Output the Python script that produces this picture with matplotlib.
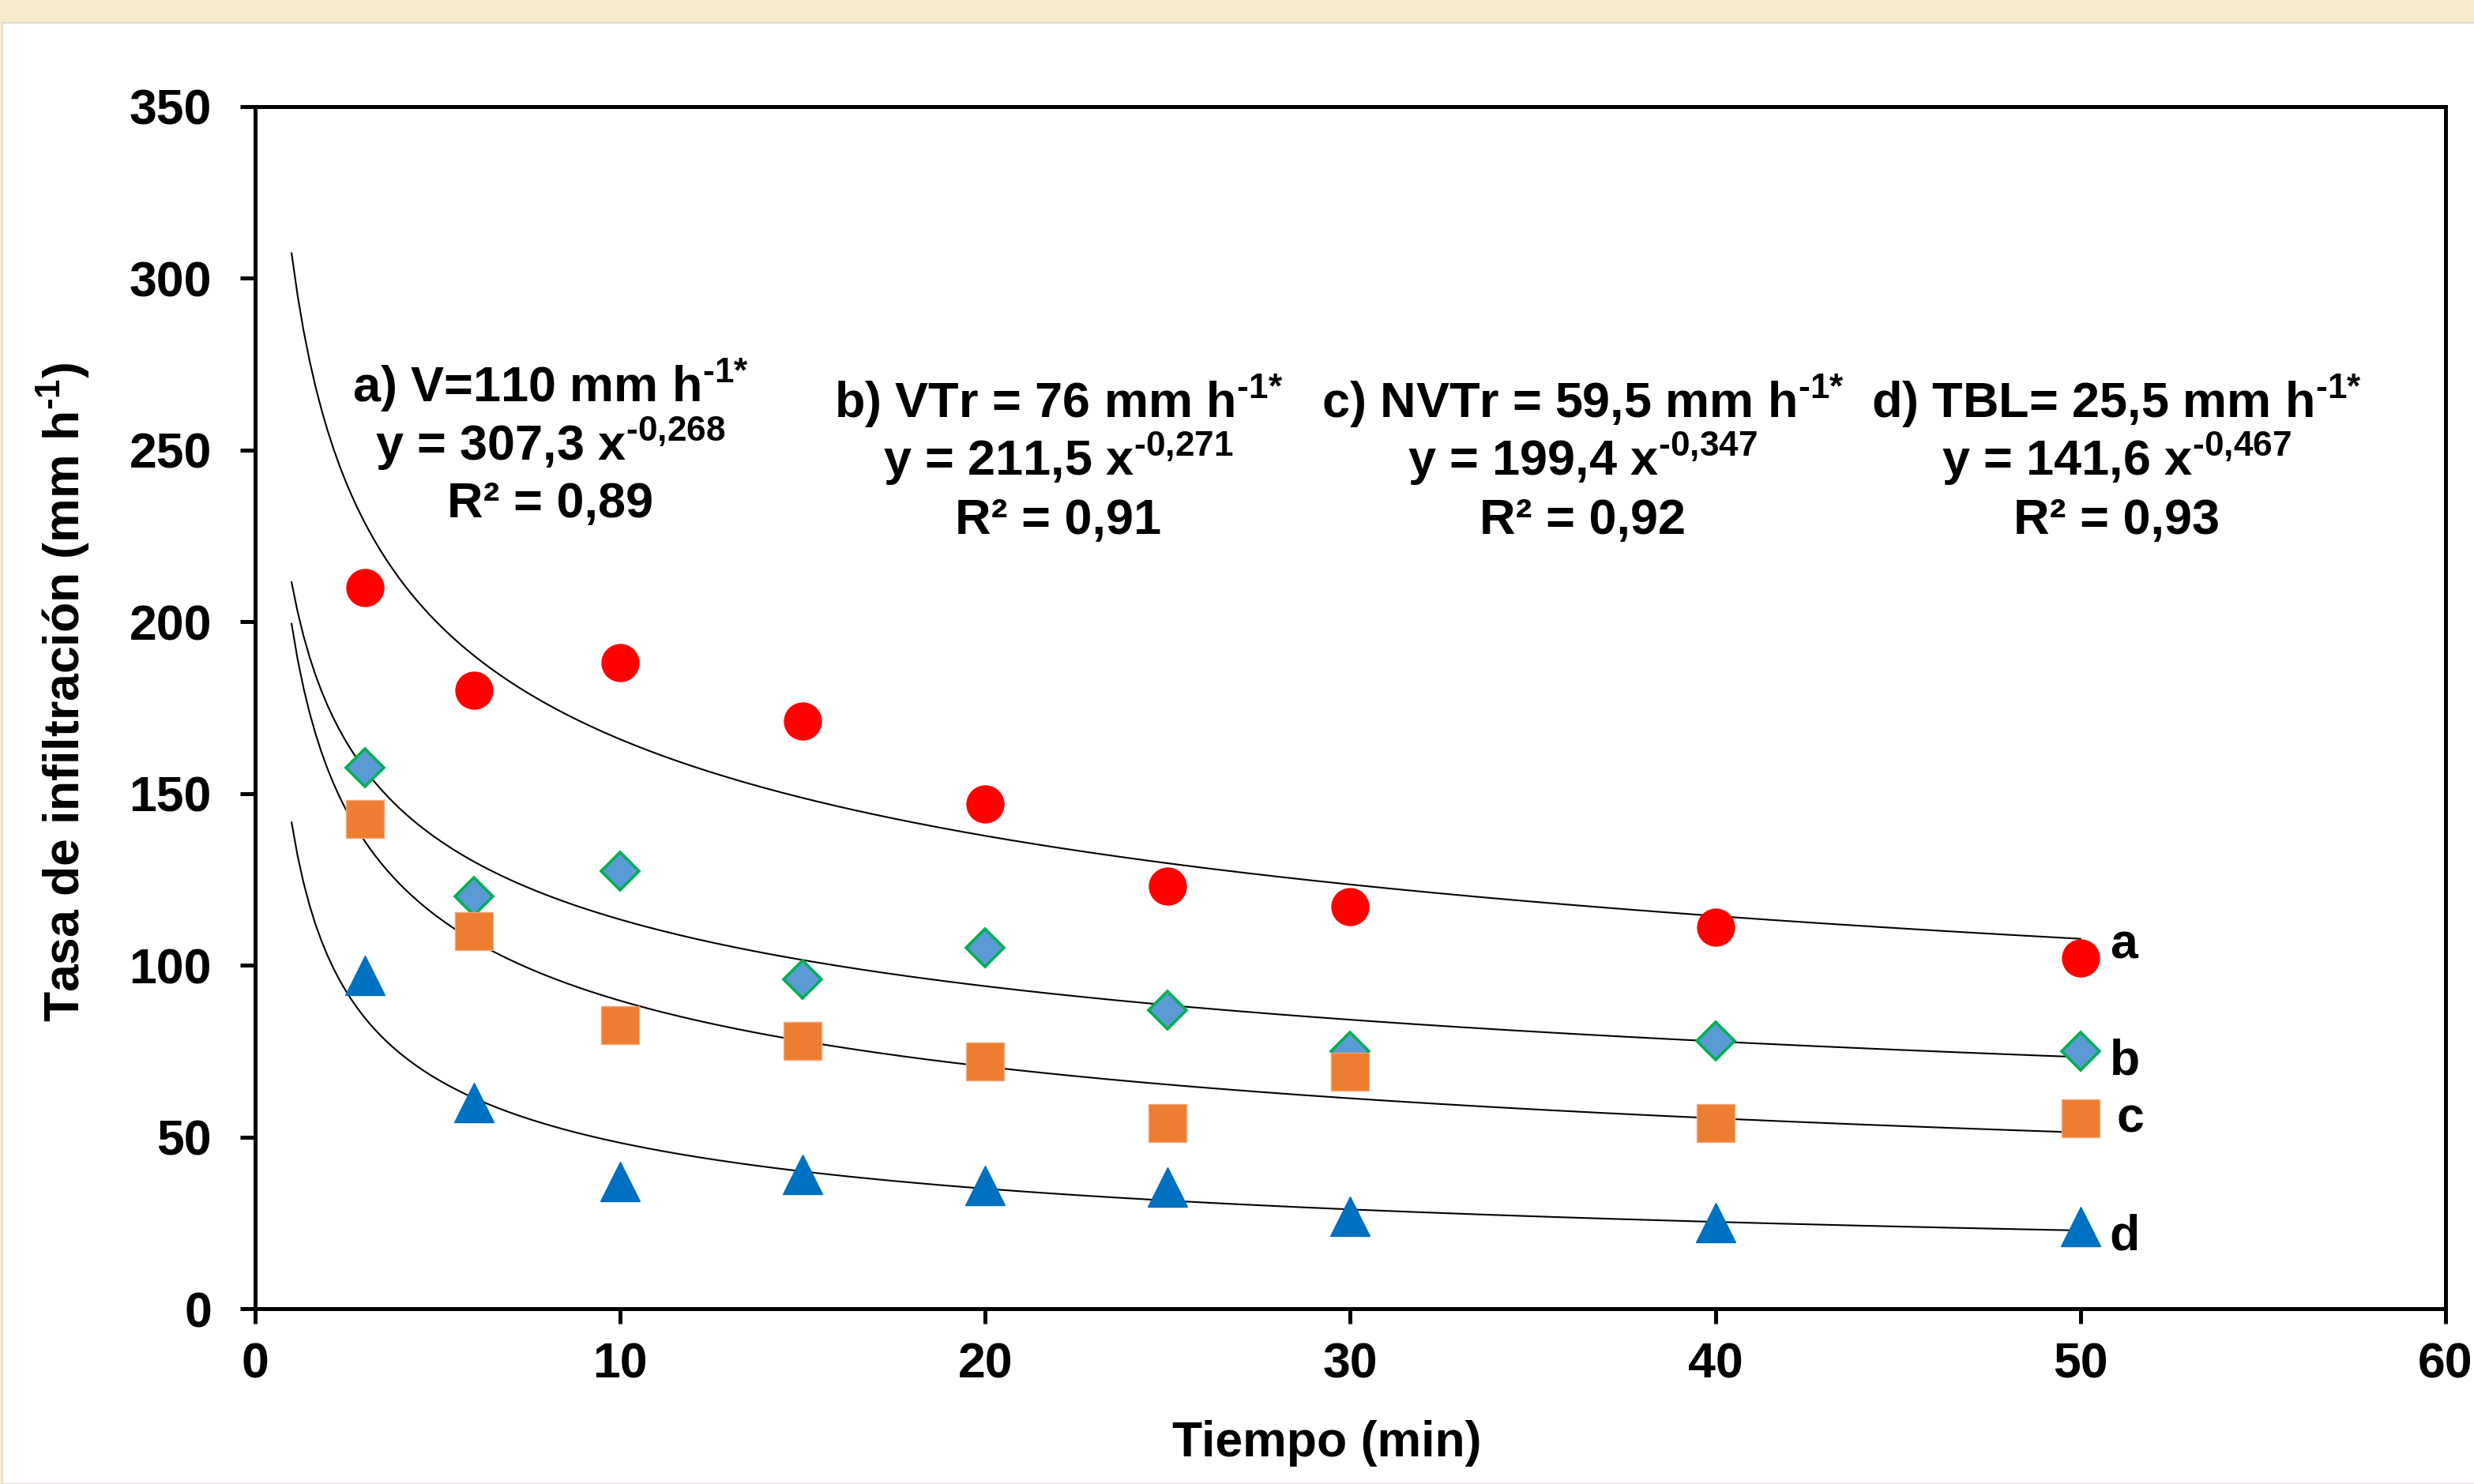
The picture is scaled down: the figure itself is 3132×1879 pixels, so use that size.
import numpy as np
import matplotlib.pyplot as plt
from matplotlib.patches import Rectangle

plt.rcParams['font.family'] = ['Liberation Sans', 'DejaVu Sans']
plt.rcParams['font.weight'] = 'bold'
plt.rcParams['mathtext.fontset'] = 'custom'
plt.rcParams['mathtext.rm'] = 'Liberation Sans:bold'
plt.rcParams['mathtext.it'] = 'Liberation Sans:bold'
plt.rcParams['mathtext.bf'] = 'Liberation Sans:bold'
plt.rcParams['mathtext.default'] = 'bf'

# datos
tiempo = [3, 6, 10, 15, 20, 25, 30, 40, 50]
tasa_a = [210, 180, 188, 171, 147, 123, 117, 111, 102]
tasa_b = [157.5, 120, 127.5, 96, 105, 87, 75, 78, 75]
tasa_c = [142.5, 110, 82.5, 78, 72, 54, 69, 54, 55.5]
tasa_d = [97, 60, 37, 39, 36, 35.5, 27, 25, 24]

# ajuste potencial y = k x^n
coef = [307.3, 211.5, 199.4, 141.6]
expo = [-0.268, -0.271, -0.347, -0.467]
r2 = ["0,89", "0,91", "0,92", "0,93"]
titulos = ["a) V=110 mm h", "b) VTr = 76 mm h", "c) NVTr = 59,5 mm h", "d) TBL= 25,5 mm h"]
letras = ["a", "b", "c", "d"]

series = [tasa_a, tasa_b, tasa_c, tasa_d]
estilos = [
    dict(marker='o', ms=16.9, mfc='#FF0000', mec='#FF0000', mew=0.5),
    dict(marker='D', ms=12.0, mfc='#5B9BD5', mec='#00B050', mew=1.3),
    dict(marker='s', ms=17.6, mfc='#ED7D31', mec='#F4A77A', mew=0.5),
    dict(marker='^', ms=17.8, mfc='#0070C0', mec='#0070C0', mew=0.5),
]

fig = plt.figure(figsize=(15.66, 9.395), dpi=200, facecolor='#F9ECCD')
fig.patches.append(Rectangle((0.0011, 0), 1, 1 - 29 / 1879, transform=fig.transFigure,
                             facecolor='white', edgecolor='#D8D4CC', linewidth=0.6, zorder=-10))
ax = fig.add_axes([0.1031, 0.1181, 0.8854, 0.8101])
ax.set_facecolor('white')

xs = np.linspace(1, 50, 300)
for k, n in zip(coef, expo):
    ax.plot(xs, k * xs ** n, color='black', lw=0.75, zorder=2)

for y, st in zip(series, estilos):
    ax.plot(tiempo, y, ls='none', zorder=3, **st)

# textos de las ecuaciones
cx = [8.09, 22.0, 36.37, 50.98]
for i in range(4):
    base = [264.2, 247.0, 230.4] if i == 0 else [259.6, 242.6, 225.6]
    e = f"{expo[i]:.3f}".replace('.', ',')
    k = f"{coef[i]:.1f}".replace('.', ',')
    lineas = [titulos[i] + r"$^{\text{-1*}}$", f"y = {k} x$^{{\\text{{{e}}}}}$", f"R² = {r2[i]}"]
    for t, yb in zip(lineas, base):
        ax.text(cx[i], yb, t, ha='center', va='baseline', fontsize=22.7, fontweight='bold')

lx = [50.8, 50.8, 50.98, 50.8]
ly = [102.1, 68.3, 51.5, 17.2]
for t, x, y in zip(letras, lx, ly):
    ax.text(x, y, t, ha='left', va='baseline', fontsize=22.5, fontweight='bold')

ax.set_xlim(0, 60)
ax.set_ylim(0, 350)
ax.set_xticks(range(0, 61, 10))
ax.set_yticks(range(0, 351, 50))
for s in ax.spines.values():
    s.set_linewidth(1.8)
ax.tick_params(axis='both', direction='out', length=6.8, width=1.8, labelsize=22.5)
ax.tick_params(axis='x', pad=8)
ax.tick_params(axis='y', pad=13)

ax.set_xlabel("Tiempo (min)", fontsize=22.5, fontweight='bold')
ax.set_ylabel(r"Tasa de infiltración (mm h$^{\text{-1}}$)", fontsize=22.5, fontweight='bold')
ax.xaxis.set_label_coords(0.4894, -0.112)
ax.xaxis.label.set_va('center')
ax.yaxis.set_label_coords(-0.0876, 0.513)
ax.yaxis.label.set_va('center')

fig.savefig("out.png", dpi=200, facecolor=fig.get_facecolor())
